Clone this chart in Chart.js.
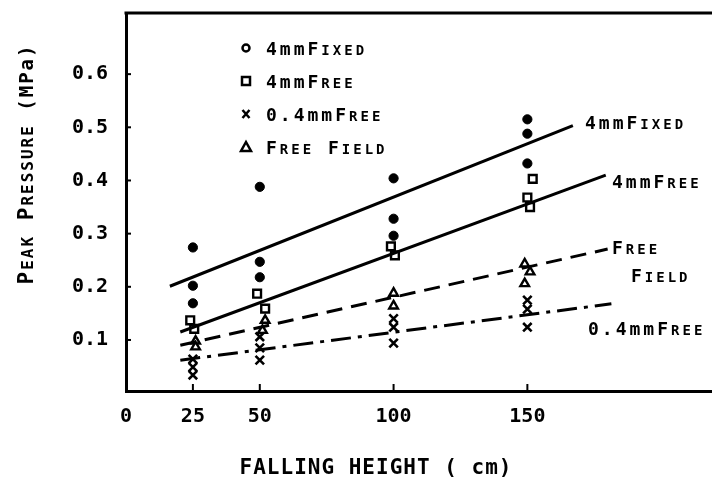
<!DOCTYPE html>
<html>
<head>
<meta charset="utf-8">
<script src="https://cdn.jsdelivr.net/npm/chart.js@4"></script>
<style>
  body { margin: 0; background: #fff; }
  #wrap { width: 712px; height: 479px; }
</style>
</head>
<body>
<div id="wrap"><canvas id="grafico" width="712" height="479"></canvas></div>
<script>
// tick labels
const xTicks = [0, 25, 50, 100, 150];
const yTicks = [0.1, 0.2, 0.3, 0.4, 0.5, 0.6];

// measured points (falling height cm, peak pressure MPa)
const fixedX = [25, 25, 25, 50, 50, 50, 100, 100, 100, 150, 150, 150];
const fixedY = [0.274, 0.202, 0.169, 0.388, 0.247, 0.218, 0.404, 0.328, 0.296, 0.515, 0.488, 0.432];

const freeX = [24, 25.5, 49, 52, 99, 100.5, 152, 150, 151];
const freeY = [0.137, 0.121, 0.187, 0.159, 0.276, 0.259, 0.403, 0.368, 0.35];

const thinX = [25, 25, 25, 50, 50, 50, 100, 100, 100, 150, 150, 150];
const thinY = [0.064, 0.049, 0.034, 0.106, 0.085, 0.062, 0.14, 0.124, 0.094, 0.175, 0.158, 0.124];

const fieldX = [26, 26, 52, 51, 100, 100, 149, 151, 149];
const fieldY = [0.098, 0.087, 0.137, 0.118, 0.188, 0.164, 0.243, 0.228, 0.206];

// fitted lines (start, end)
const fitFixedX = [16.4, 167];
const fitFixedY = [0.201, 0.503];
const fitFreeX = [20.3, 179.3];
const fitFreeY = [0.115, 0.41];
const fitFieldX = [20.3, 180];
const fitFieldY = [0.09, 0.271];
const fitThinX = [20.3, 181.4];
const fitThinY = [0.062, 0.168];

const FONT = '"DejaVu Sans Mono", monospace';
const PESO = 'bold ';

function pts(xs, ys) {
    return xs.map((v, i) => ({ x: v, y: ys[i] }));
}

// draws text made of parts [texto, size] (fake small caps)
function drawParts(ctx, parts, x, y, align, spacing) {
    ctx.save();
    ctx.letterSpacing = (spacing || 0) + 'px';
    let w = 0;
    parts.forEach(p => { ctx.font = PESO + p[1] + 'px ' + FONT; w += ctx.measureText(p[0]).width; });
    let cx = x;
    if (align == 'center') cx = x - w / 2;
    ctx.textAlign = 'left';
    ctx.textBaseline = 'alphabetic';
    ctx.fillStyle = '#000';
    parts.forEach(p => {
        ctx.font = PESO + p[1] + 'px ' + FONT;
        ctx.fillText(p[0], cx, y);
        cx += ctx.measureText(p[0]).width;
    });
    ctx.restore();
}

function symbol(ctx, kind, x, y) {
    ctx.save();
    ctx.strokeStyle = '#000';
    ctx.fillStyle = '#fff';
    ctx.lineWidth = 2.5;
    ctx.beginPath();
    if (kind == 'circle') {
        ctx.arc(x, y, 3.5, 0, Math.PI * 2);
        ctx.stroke();
    } else if (kind == 'rect') {
        ctx.rect(x - 4, y - 4, 8, 8);
        ctx.fill(); ctx.stroke();
    } else if (kind == 'cross') {
        ctx.moveTo(x - 3.5, y - 4); ctx.lineTo(x + 3.5, y + 4);
        ctx.moveTo(x + 3.5, y - 4); ctx.lineTo(x - 3.5, y + 4);
        ctx.stroke();
    } else {
        ctx.moveTo(x, y - 5); ctx.lineTo(x + 5, y + 4); ctx.lineTo(x - 5, y + 4); ctx.closePath();
        ctx.fill(); ctx.stroke();
    }
    ctx.restore();
}

const decoracao = {
    id: 'decoracao',
    afterDraw(chart) {
        const ctx = chart.ctx;
        const a = chart.chartArea;
        const sx = chart.scales.x, sy = chart.scales.y;
        ctx.save();
        ctx.strokeStyle = '#000';
        ctx.lineWidth = 3;
        // top of frame
        ctx.beginPath();
        ctx.moveTo(a.left - 1.5, a.top);
        ctx.lineTo(a.right, a.top);
        ctx.stroke();
        // inward ticks
        ctx.lineWidth = 2;
        yTicks.forEach(v => {
            const py = sy.getPixelForValue(v);
            ctx.beginPath(); ctx.moveTo(a.left, py); ctx.lineTo(a.left + 5, py); ctx.stroke();
        });
        xTicks.slice(1).forEach(v => {
            const px = sx.getPixelForValue(v);
            ctx.beginPath(); ctx.moveTo(px, a.bottom); ctx.lineTo(px, a.bottom - 7); ctx.stroke();
        });
        ctx.restore();

        // legend
        const leg = [
            ['circle', [['4mm', 18], ['F', 18], ['IXED', 14]]],
            ['rect', [['4mm', 18], ['F', 18], ['REE', 14]]],
            ['cross', [['0.4mm', 18], ['F', 18], ['REE', 14]]],
            ['tri', [['F', 18], ['REE', 14], [' F', 18], ['IELD', 14]]]
        ];
        const legY = [48, 81, 114, 147];
        leg.forEach((l, i) => {
            symbol(ctx, l[0], 246, legY[i]);
            drawParts(ctx, l[1], 266, legY[i] + 7, 'left', 3);
        });

        // line labels
        drawParts(ctx, [['4mm', 18], ['F', 18], ['IXED', 14]], 585, 129, 'left', 3);
        drawParts(ctx, [['4mm', 18], ['F', 18], ['REE', 14]], 612, 188, 'left', 3);
        drawParts(ctx, [['F', 18], ['REE', 14]], 612, 254, 'left', 3);
        drawParts(ctx, [['F', 18], ['IELD', 14]], 631, 282, 'left', 3);
        drawParts(ctx, [['0.4mm', 18], ['F', 18], ['REE', 14]], 588, 335, 'left', 3);

        // axis titles
        ctx.save();
        ctx.translate(33, 164);
        ctx.rotate(-Math.PI / 2);
        drawParts(ctx, [['P', 21], ['EAK', 16], [' P', 21], ['RESSURE', 16], [' (MPa)', 19]], 0, 0, 'center', 2);
        ctx.restore();
        drawParts(ctx, [['FALLING HEIGHT ( cm)', 21]], 376, 474, 'center', 1);
    }
};

const pointBase = { showLine: false, borderColor: '#000', order: 2 };
const lineBase = { showLine: true, pointRadius: 0, borderColor: '#000', borderWidth: 3, fill: false, order: 1 };

const config = {
    type: 'scatter',
    data: {
        datasets: [
            Object.assign({ label: '4mmFixed', data: pts(fixedX, fixedY), pointStyle: 'circle', pointRadius: 4.6, backgroundColor: '#000', borderWidth: 1 }, pointBase),
            Object.assign({ label: '4mmFree', data: pts(freeX, freeY), pointStyle: 'rect', pointRadius: 5.5, backgroundColor: '#fff', borderWidth: 2.4 }, pointBase),
            Object.assign({ label: '0.4mmFree', data: pts(thinX, thinY), pointStyle: 'crossRot', pointRadius: 6, backgroundColor: '#fff', borderWidth: 2.6 }, pointBase),
            Object.assign({ label: 'Free Field', data: pts(fieldX, fieldY), pointStyle: 'triangle', pointRadius: 5, backgroundColor: '#fff', borderWidth: 2.4 }, pointBase),
            Object.assign({ label: 'fit 4mmFixed', data: pts(fitFixedX, fitFixedY) }, lineBase),
            Object.assign({ label: 'fit 4mmFree', data: pts(fitFreeX, fitFreeY) }, lineBase),
            Object.assign({ label: 'fit Free Field', data: pts(fitFieldX, fitFieldY), borderDash: [16, 9] }, lineBase),
            Object.assign({ label: 'fit 0.4mmFree', data: pts(fitThinX, fitThinY), borderDash: [20, 7, 4, 7] }, lineBase)
        ]
    },
    options: {
        responsive: false,
        animation: false,
        layout: { autoPadding: false, padding: { top: 13, right: 0, bottom: 0, left: 0 } },
        plugins: {
            legend: { display: false },
            tooltip: { enabled: false }
        },
        scales: {
            x: {
                type: 'linear',
                min: 0,
                max: 219,
                afterBuildTicks: s => { s.ticks = xTicks.map(v => ({ value: v })); },
                afterFit: s => { s.height = 88; s.paddingLeft = 0; s.paddingRight = 0; },
                grid: { display: false, drawTicks: false },
                border: { color: '#000', width: 3 },
                ticks: {
                    color: '#000',
                    padding: 14,
                    maxRotation: 0,
                    font: { family: FONT, size: 20, weight: 'bold' }
                }
            },
            y: {
                type: 'linear',
                min: 0.004,
                max: 0.715,
                afterBuildTicks: s => { s.ticks = yTicks.map(v => ({ value: v })); },
                afterFit: s => { s.width = 126; s.paddingTop = 0; s.paddingBottom = 0; },
                grid: { display: false, drawTicks: false },
                border: { color: '#000', width: 3 },
                ticks: {
                    color: '#000',
                    padding: 18,
                    font: { family: FONT, size: 20, weight: 'bold' },
                    callback: v => v.toFixed(1)
                }
            }
        }
    },
    plugins: [decoracao]
};

const ctx = document.getElementById('grafico').getContext('2d');
new Chart(ctx, config);
</script>
</body>
</html>
